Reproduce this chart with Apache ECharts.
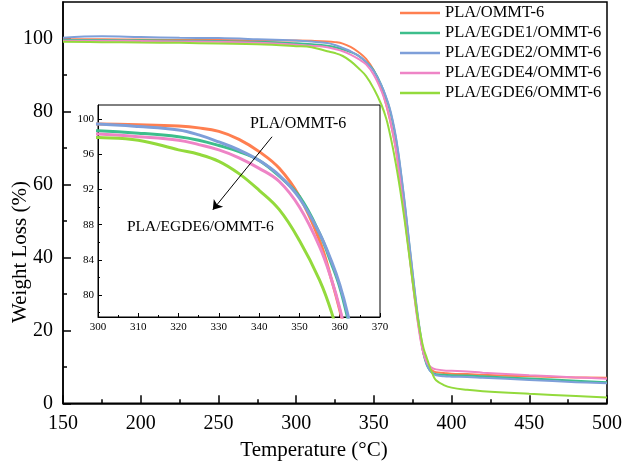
<!DOCTYPE html>
<html><head><meta charset="utf-8">
<script src="https://cdn.jsdelivr.net/npm/echarts@6/dist/echarts.min.js"></script>
<style>html,body{margin:0;padding:0;background:#fff}#c{width:625px;height:463px}</style>
</head><body><div id="c"></div>
<script>
const temps = [150,175,200,225,250,275,300,310,320,325,330,335,340,345,350,355,358,360,362,364,366,368,370,372,374,376,378,380,382,384,386,388,390,395,400,410,420,450,480,500];
const seriesNames = ['PLA/OMMT-6','PLA/EGDE1/OMMT-6','PLA/EGDE2/OMMT-6','PLA/EGDE4/OMMT-6','PLA/EGDE6/OMMT-6'];
const pla = [99.8,99.8,99.7,99.6,99.6,99.5,99.43,99.35,99.2,99.0,98.6,97.7,96.3,94.4,91.2,86.2,81.7,78.3,74.5,70,64.5,58,51,44,37,30,23.5,18,13.5,11,9.6,8.9,8.5,8.3,8.1,8.0,7.8,7.4,7.1,7.0];
const egde1 = [99.6,99.6,99.5,99.4,99.3,99.1,98.67,98.4,98.0,97.6,97.0,96.3,95.3,93.5,91.2,87.0,83.5,80.9,77.3,73,67.5,61,54,46.5,39,31.5,24.5,18.5,13.5,10.5,9.0,8.3,8.0,7.8,7.7,7.6,7.4,6.8,6.2,5.8];
const egde2 = [100.2,100.6,100.4,100.2,100.1,99.8,99.43,99.15,98.75,98.2,97.4,96.5,95.3,93.6,91.0,87.0,83.8,81.2,77.8,73.5,68,61.5,54.5,47,39.5,32,25,19,14,10.8,9.0,8.1,7.7,7.4,7.3,7.2,7.0,6.4,5.8,5.5];
const egde4 = [99.4,99.4,99.3,99.2,99.1,98.8,98.3,98.0,97.6,97.1,96.5,95.6,94.4,92.9,90.0,85.5,81.7,78.5,74.5,70,64,57.5,50.5,43.5,36.5,29.5,23,17.5,13.5,11.3,10.2,9.6,9.3,9.0,8.9,8.7,8.4,7.7,7.1,6.7];
const egde6 = [99.1,99.0,98.9,98.8,98.6,98.4,97.9,97.6,96.5,96.0,95.2,93.8,91.9,89.7,86.2,81.7,78,74.5,70.5,66,61,55.5,49.5,43,36.5,30,24,19,15,12.5,10,7.8,6.3,5,4.3,3.7,3.3,2.6,2.0,1.6];
const allValues = [pla, egde1, egde2, egde4, egde6];
const colors = ['#FF7F50','#3DBE8C','#7E9FD9','#EE84C6','#93DA3C'];
const mainYTicks = [0,20,40,60,80,100];
const mainYMinor = [10,30,50,70,90];
const insetYTicks = [80,84,88,92,96,100];
const insetYMinor = [78,82,86,90,94,98];
const arrowFrom = [343.2, 97.99];
const arrowTo = [328.5, 89.68];

const FONT = 'Liberation Serif';
const chart = echarts.init(document.getElementById('c'), null, {renderer:'canvas'});

function pairs(vals){ return temps.map((t,i)=>[t, vals[i]]); }

const series = [];
allValues.forEach((vals, i) => {
  series.push({
    name: seriesNames[i], type: 'line', xAxisIndex: 0, yAxisIndex: 0,
    data: pairs(vals), symbol: 'none', smooth: 0.4,
    lineStyle: {color: colors[i], width: 2}, itemStyle: {color: colors[i]}, z: 3
  });
});
allValues.forEach((vals, i) => {
  series.push({
    name: seriesNames[i], type: 'line', xAxisIndex: 1, yAxisIndex: 2,
    data: pairs(vals), symbol: 'none', smooth: 0.4, clip: true,
    lineStyle: {color: colors[i], width: 3}, itemStyle: {color: colors[i]}, z: 4
  });
});
series.push({
  type: 'line', xAxisIndex: 1, yAxisIndex: 2, data: [], symbol: 'none', z: 6,
  markLine: {
    silent: true, symbol: ['none','arrow'], symbolSize: 9, animation: false,
    lineStyle: {color: '#000', width: 1, type: 'solid'},
    label: {show: false},
    data: [[{coord: arrowFrom}, {coord: arrowTo}]]
  }
});

const labelStyle = {color:'#000', fontFamily: FONT};

chart.setOption({
  animation: false,
  backgroundColor: '#fff',
  grid: [
    {left: 63, right: 15.5, top: 2, bottom: 59.7, show: true, borderColor: '#000', borderWidth: 1.5, containLabel: false},
    {left: 98, right: 245, top: 105, bottom: 146, show: true, borderColor: '#000', borderWidth: 1, containLabel: false}
  ],
  legend: {
    data: seriesNames, left: 400, top: 3, orient: 'vertical', padding: 0,
    icon: 'rect', itemWidth: 40, itemHeight: 2.5, itemGap: 0,
    textStyle: {fontFamily: FONT, fontSize: 16.5, color: '#000', lineHeight: 20},
    selectedMode: false
  },
  xAxis: [
    {type: 'value', gridIndex: 0, min: 150, max: 500, interval: 50,
     axisLine: {lineStyle: {color:'#000', width: 1.5}},
     axisTick: {inside: true, length: 8, lineStyle: {color:'#000', width: 1.5}},
     minorTick: {show: true, splitNumber: 2, length: 4, lineStyle: {color:'#000', width: 1.5}},
     splitLine: {show: false},
     axisLabel: Object.assign({fontSize: 20, margin: 10}, labelStyle)},
    {type: 'value', gridIndex: 1, min: 300, max: 370, interval: 10,
     axisLine: {lineStyle: {color:'#000', width: 1}},
     axisTick: {inside: true, length: 4, lineStyle: {color:'#000', width: 1}},
     minorTick: {show: true, splitNumber: 2, length: 2, lineStyle: {color:'#000', width: 1}},
     splitLine: {show: false},
     axisLabel: Object.assign({fontSize: 11, margin: 5}, labelStyle)}
  ],
  yAxis: [
    {type: 'value', gridIndex: 0, min: 0, max: 110,
     axisLine: {show: true, lineStyle: {color:'#000', width: 1.5}},
     axisTick: {show: true, inside: true, length: 8, customValues: mainYTicks, lineStyle: {color:'#000', width: 1.5}},
     splitLine: {show: false},
     axisLabel: Object.assign({fontSize: 20, margin: 10, customValues: mainYTicks}, labelStyle)},
    {type: 'value', gridIndex: 0, min: 0, max: 110, position: 'left',
     axisLine: {show: false},
     axisTick: {show: true, inside: true, length: 4, customValues: mainYMinor, lineStyle: {color:'#000', width: 1.5}},
     splitLine: {show: false},
     axisLabel: {show: false}},
    {type: 'value', gridIndex: 1, min: 77.5, max: 101.6,
     axisLine: {show: true, lineStyle: {color:'#000', width: 1}},
     axisTick: {show: true, inside: true, length: 4, customValues: insetYTicks, lineStyle: {color:'#000', width: 1}},
     splitLine: {show: false},
     axisLabel: Object.assign({fontSize: 11, margin: 4, customValues: insetYTicks}, labelStyle)},
    {type: 'value', gridIndex: 1, min: 77.5, max: 101.6, position: 'left',
     axisLine: {show: false},
     axisTick: {show: true, inside: true, length: 2, customValues: insetYMinor, lineStyle: {color:'#000', width: 1}},
     splitLine: {show: false},
     axisLabel: {show: false}}
  ],
  series: series,
  graphic: [
    {type: 'text', x: 20, y: 252, rotation: Math.PI/2,
     style: {text: 'Weight Loss (%)', fontFamily: FONT, fontSize: 21, fill: '#000', align: 'center', verticalAlign: 'middle'}},
    {type: 'text', x: 314, y: 450,
     style: {text: 'Temperature (\u00B0C)', fontFamily: FONT, fontSize: 21, fill: '#000', align: 'center', verticalAlign: 'middle'}},
    {type: 'text', x: 250, y: 124,
     style: {text: 'PLA/OMMT-6', fontFamily: FONT, fontSize: 16, fill: '#000', align: 'left', verticalAlign: 'middle'}},
    {type: 'text', x: 127, y: 227,
     style: {text: 'PLA/EGDE6/OMMT-6', fontFamily: FONT, fontSize: 15.5, fill: '#000', align: 'left', verticalAlign: 'middle'}}
  ]
});
</script></body></html>
